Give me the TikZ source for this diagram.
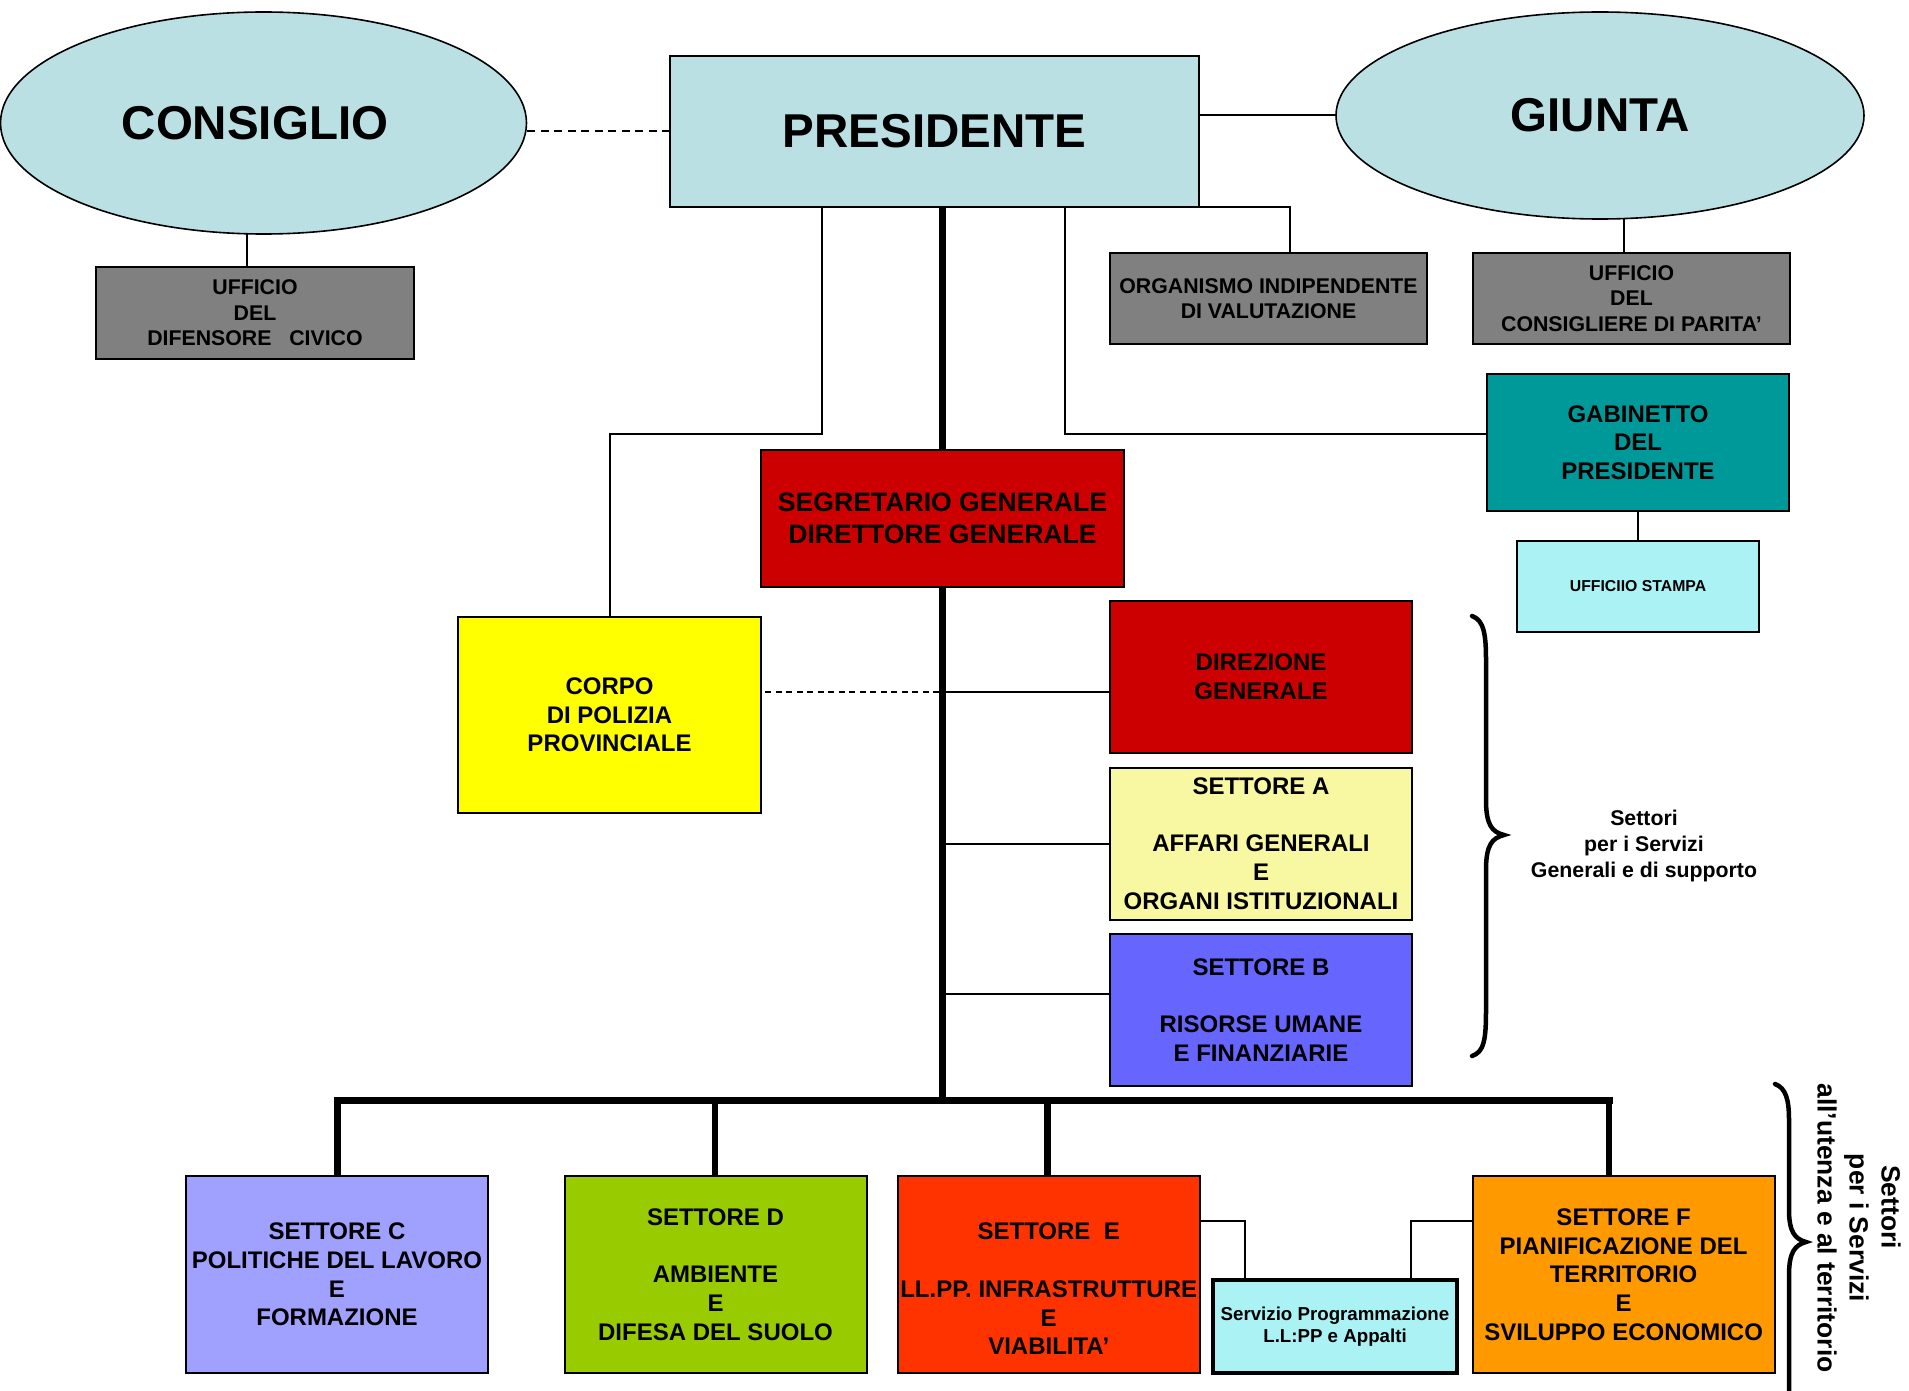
\documentclass[tikz,border=0pt]{standalone}
\usepackage{fontspec}
\setmainfont{Liberation Sans}
\usetikzlibrary{shapes.geometric,calc}
\definecolor{lblue}{HTML}{BBE0E3}
\definecolor{grayb}{HTML}{808080}
\definecolor{tealG}{HTML}{009999}
\definecolor{lcyan}{HTML}{AAF2F4}
\definecolor{dred}{HTML}{CC0000}
\definecolor{pyel}{HTML}{FFFF00}
\definecolor{pyellow}{HTML}{F8F8A2}
\definecolor{blueB}{HTML}{6666FF}
\definecolor{violC}{HTML}{A0A0FF}
\definecolor{greenD}{HTML}{99CC00}
\definecolor{redE}{HTML}{FF3300}
\definecolor{orangeF}{HTML}{FF9900}
\begin{document}
\begin{tikzpicture}[x=1pt,y=-1pt,
  box/.style={draw=black,line width=2pt,rectangle,inner sep=0pt,outer sep=0pt,align=center,font=\fontsize{24}{28.7}\selectfont\bfseries},
  oval/.style={draw=black,line width=1.6pt,ellipse,inner sep=0pt,outer sep=0pt,fill=lblue,font=\fontsize{47.5}{57}\selectfont\bfseries},
  graybox/.style={box,fill=grayb,font=\fontsize{21.3}{25.6}\selectfont\bfseries},
  conn/.style={line width=2pt},
  trunk/.style={line width=6.5pt},
  busline/.style={line width=7pt,line cap=rect},
  drop/.style={line width=6.5pt},
  dashl/.style={line width=2pt,dash pattern=on 8pt off 5.5pt},
  dashs/.style={line width=2.5pt,dash pattern=on 6pt off 4.5pt},
  brace/.style={line width=4.5pt,line cap=round},
  note/.style={align=center,inner sep=0pt,font=\fontsize{21.3}{26}\selectfont\bfseries},
]
\useasboundingbox (0,0) rectangle (1909,1391);

% top level
\node[oval,minimum width=526pt,minimum height=222pt] (cons) at (263.5,123) {};
\node[inner sep=0pt,font=\fontsize{47.5}{57}\selectfont\bfseries] (consT) at (255,123) {CONSIGLIO};
\node[box,fill=lblue,minimum width=529pt,minimum height=151pt,font=\fontsize{47.5}{57}\selectfont\bfseries] (pres) at (934.5,131.5) {PRESIDENTE};
\node[oval,minimum width=528pt,minimum height=207pt] (giunta) at (1600,115.5) {GIUNTA};

% staff offices
\node[graybox,minimum width=318pt,minimum height=92pt] (dif) at (255,313) {UFFICIO\\DEL\\DIFENSORE\ \ \ CIVICO};
\node[graybox,minimum width=317pt,minimum height=91pt] (org) at (1268.5,298.5) {ORGANISMO INDIPENDENTE\\DI VALUTAZIONE};
\node[graybox,minimum width=317pt,minimum height=91pt] (cpar) at (1631.5,298.5) {UFFICIO\\DEL\\CONSIGLIERE DI PARITA’};
\node[box,fill=tealG,minimum width=302pt,minimum height=137pt] (gab) at (1638,442.5) {GABINETTO\\DEL\\PRESIDENTE};
\node[box,fill=lcyan,minimum width=242pt,minimum height=91pt,font=\fontsize{15.8}{19}\selectfont\bfseries] (stampa) at (1638,586) {UFFICIIO STAMPA};

% middle
\node[box,fill=dred,minimum width=363pt,minimum height=137pt,font=\fontsize{26.6}{31.7}\selectfont\bfseries] (segr) at (942.5,518) {SEGRETARIO GENERALE\\DIRETTORE GENERALE};
\node[box,fill=pyel,minimum width=303pt,minimum height=196pt] (corpo) at (609.5,715) {CORPO\\DI POLIZIA\\PROVINCIALE};
\node[box,fill=dred,minimum width=302pt,minimum height=152pt] (dir) at (1261,677) {DIREZIONE\\GENERALE};
\node[box,fill=pyellow,minimum width=302pt,minimum height=152pt] (setA) at (1261,843.5) {SETTORE A\\[28.7pt]AFFARI GENERALI\\E\\ORGANI ISTITUZIONALI};
\node[box,fill=blueB,minimum width=302pt,minimum height=152pt] (setB) at (1261,1010) {SETTORE B\\[28.7pt]RISORSE UMANE\\E FINANZIARIE};

% bottom
\node[box,fill=violC,minimum width=302pt,minimum height=197pt] (setC) at (337,1274.5) {SETTORE C\\POLITICHE DEL LAVORO\\E\\FORMAZIONE};
\node[box,fill=greenD,minimum width=302pt,minimum height=197pt] (setD) at (715.5,1274.5) {SETTORE D\\[28.7pt]AMBIENTE\\E\\DIFESA DEL SUOLO};
\node[box,fill=redE,minimum width=302pt,minimum height=197pt] (setE) at (1048.7,1274.5) {};
\node[align=center,inner sep=0pt,font=\fontsize{24}{28.7}\selectfont\bfseries] (setEt) at (1048.7,1289) {SETTORE\ \ E\\[28.7pt]LL.PP. INFRASTRUTTURE\\E\\VIABILITA’};
\node[box,fill=lcyan,line width=4pt,minimum width=244pt,minimum height=93pt,font=\fontsize{18.7}{22}\selectfont\bfseries] (serv) at (1335,1326.5) {Servizio Programmazione\\L.L:PP e Appalti};
\node[box,fill=orangeF,minimum width=302pt,minimum height=197pt] (setF) at (1623.6,1274.5) {SETTORE F\\PIANIFICAZIONE DEL\\TERRITORIO\\E\\SVILUPPO ECONOMICO};

% notes
\node[note] (note1) at (1644,846) {Settori\\per i Servizi\\Generali e di supporto};
\node[note,font=\fontsize{26.4}{32}\selectfont\bfseries,rotate=-90] (note2) at (1859,1228) {Settori\hspace*{42pt}\\per i Servizi\hspace*{22pt}\\all’utenza e al territorio};

% connectors top
\draw[dashl] (pres.west) -- (pres.west -| cons.east);
\draw[conn] (giunta.west) -- (giunta.west -| pres.east);
\draw[conn] ([xshift=-16.5pt]cons.south) -- ([xshift=-16.5pt]cons.south |- dif.north);
\draw[conn] ([xshift=23.6pt]giunta.south) -- ([xshift=23.6pt]giunta.south |- cpar.north);
\coordinate (jo) at (1290,207);
\draw[conn] (pres.south east) -- (jo) -- (jo |- org.north);
\coordinate (jl) at (822,434);
\draw[conn] (jl |- pres.south) -- (jl) -| (corpo.north);
\coordinate (jr) at (1064.5,434);
\draw[conn] (jr |- pres.south) -- (jr) -- (jr -| gab.west);
\draw[conn] (gab.south) -- (stampa.north);

% trunk
\coordinate (busL) at (337.4,1100);
\coordinate (busR) at (1609,1100);
\draw[trunk] (pres.south -| segr.north) -- (segr.north);
\draw[trunk] (segr.south) -- (segr.south |- busL);
\draw[busline] (busL) -- (busR);

\coordinate (t1) at (942.5,692);
\coordinate (t2) at (942.5,843.7);
\coordinate (t3) at (942.5,994.3);
\draw[conn] (t1) -- (t1 -| dir.west);
\draw[dashs] ([xshift=-3.5pt]t1) -- (t1 -| corpo.east);
\draw[conn] (t2) -- (t2 -| setA.west);
\draw[conn] (t3) -- (t3 -| setB.west);

% drops
\coordinate (bD) at (715,1100);
\coordinate (bE) at (1047.5,1100);
\draw[drop] (busL) -- (busL |- setC.north);
\draw[drop] (bD) -- (bD |- setD.north);
\draw[drop] (bE) -- (bE |- setE.north);
\draw[drop] (busR) -- (busR |- setF.north);

% servizio
\coordinate (se1) at (1245,1221);
\coordinate (sf1) at (1411,1221);
\draw[conn] (se1 -| setE.east) -- (se1) -- (se1 |- serv.north);
\draw[conn] (sf1 -| setF.west) -- (sf1) -- (sf1 |- serv.north);

% braces
\draw[brace] (1472,616) .. controls (1484,620) and (1486,635) .. (1486,660) -- (1486,800) .. controls (1486,825) and (1492,832) .. (1504,835) .. controls (1492,838) and (1486,845) .. (1486,870) -- (1486,1010) .. controls (1486,1040) and (1484,1052) .. (1472,1056);
\draw[brace] (1775,1084) .. controls (1786,1088) and (1789,1100) .. (1789,1120) -- (1789,1210) .. controls (1789,1232) and (1795,1239) .. (1806,1242) .. controls (1795,1245) and (1789,1252) .. (1789,1275) -- (1789,1400);
\end{tikzpicture}
\end{document}
